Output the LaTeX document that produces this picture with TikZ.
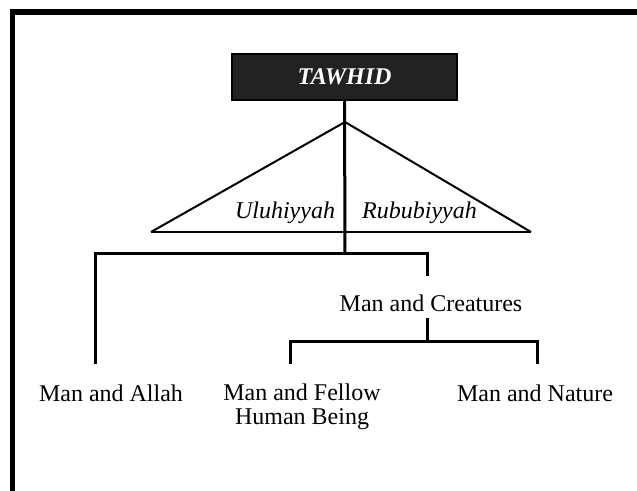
\documentclass[tikz,border=0pt]{standalone}
\usepackage{fontspec}
\setmainfont{Liberation Serif}
\definecolor{boxfill}{HTML}{222222}
\tikzset{
  tbox/.style={draw=black, line width=1pt, fill=boxfill, text=white,
    font=\fontsize{12}{12}\selectfont\bfseries\itshape,
    minimum width=112.5pt, minimum height=23pt, inner sep=0pt},
  lbl/.style={font=\fontsize{12}{12}\selectfont, inner sep=0pt, align=center},
  ilbl/.style={font=\fontsize{12}{12}\selectfont\itshape, inner sep=0pt},
  tree/.style={line width=1.5pt},
  tri/.style={line width=1pt, line join=miter},
  frame/.style={line width=2.8pt}
}
\begin{document}
\begin{tikzpicture}[x=0.5pt,y=-0.5pt]
\useasboundingbox (0,0) rectangle (637,491);
% frame
\draw[frame] (12.5,491) -- (12.5,12) -- (637,12);
% top node
\node[tbox] (tawhid) at (344.5,77) {TAWHID};
% triangle
\coordinate (apex) at (345,122);
\coordinate (bl) at (151,232);
\coordinate (br) at (531,232);
\draw[tri] (bl) -- (apex) -- (br);
\draw[line width=1.3pt] (bl) -- (br);
\node[ilbl] (ulu) at (285,213) {Uluhiyyah};
\node[ilbl] (rub) at (419.5,213) {Rububiyyah};
% tree
\coordinate (j1) at (345,254);
\coordinate (jl) at (95,254);
\coordinate (jr) at (427,254);
\coordinate (allahTop) at (95,364);
\coordinate (crTop) at (427,276);
\coordinate (crBot) at (427,318);
\coordinate (j2) at (427,342);
\coordinate (fTop) at (290,364);
\coordinate (nTop) at (537,364);
\coordinate (j2l) at (290,342);
\coordinate (j2r) at (537,342);
\node[lbl] (creatures) at (431,303) {Man and Creatures};
\node[lbl] (allah) at (111,393) {Man and Allah};
\node[lbl, anchor=north] (fellow) at (302,383) {Man and Fellow\\Human Being};
\node[lbl] (nature) at (535,393) {Man and Nature};
\draw[tree] (tawhid.south) -- (j1);
\draw[tree, line cap=rect] (jl) -- (jr);
\draw[tree] (jl) -- (allahTop);
\draw[tree] (jr) -- (crTop);
\draw[tree] (crBot) -- (j2);
\draw[tree, line cap=rect] (j2l) -- (j2r);
\draw[tree] (j2l) -- (fTop);
\draw[tree] (j2r) -- (nTop);
\end{tikzpicture}
\end{document}
